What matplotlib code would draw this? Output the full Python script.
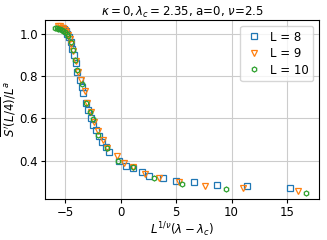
import matplotlib
matplotlib.use("Agg")
import matplotlib.pyplot as plt

# L = 8
x8 = [-5.4, -5.25, -5.1, -4.95, -4.8, -4.65, -4.5, -4.35, -4.2, -4.05, -3.9, -3.7, -3.5, -3.35,
      -3.15, -2.9, -2.7, -2.5, -2.25, -1.95, -1.7, -1.35, -1.0, -0.1, 0.5, 1.1, 1.9, 2.6, 3.8,
      5.0, 6.6, 8.7, 11.4, 15.3]
y8 = [1.03, 1.03, 1.025, 1.015, 1.0, 0.985, 0.96, 0.93, 0.90, 0.86, 0.82, 0.78, 0.75, 0.72,
      0.675, 0.64, 0.60, 0.57, 0.547, 0.515, 0.49, 0.465, 0.443, 0.40, 0.375, 0.363, 0.345, 0.328, 0.316,
      0.306, 0.30, 0.285, 0.278, 0.27]
# L = 9
x9 = [-5.66, -5.5, -5.35, -5.2, -5.05, -4.9, -4.75, -4.6, -4.45, -4.3, -4.05, -3.8, -3.6, -3.25,
      -3.0, -2.7, -2.35, -2.0, -1.6, -1.2, -0.35, 0.35, 1.1, 2.2, 3.5, 5.3, 7.6, 11.0, 16.0]
y9 = [1.035, 1.035, 1.03, 1.03, 1.02, 1.01, 0.995, 0.975, 0.95, 0.92, 0.87, 0.82, 0.78, 0.73,
      0.675, 0.63, 0.585, 0.54, 0.50, 0.46, 0.42, 0.387, 0.368, 0.335, 0.317, 0.30, 0.28, 0.27, 0.256]
# L = 10
x10 = [-5.9, -5.75, -5.6, -5.45, -5.3, -5.15, -5.0, -4.85, -4.7, -4.5, -4.3, -4.1, -3.9, -3.5,
       -3.15, -2.8, -2.5, -2.0, -1.2, -0.2, 1.1, 3.0, 5.5, 9.5, 16.7]
y10 = [1.03, 1.03, 1.025, 1.025, 1.02, 1.015, 1.01, 1.0, 0.99, 0.96, 0.925, 0.875, 0.83, 0.765,
       0.675, 0.63, 0.595, 0.52, 0.458, 0.40, 0.368, 0.316, 0.29, 0.265, 0.245]

labels = ["L = 8", "L = 9", "L = 10"]

fs = 8.5
fig = plt.figure(figsize=(3.27, 2.40), dpi=100)
ax = fig.add_axes([0.138, 0.172, 0.838, 0.745])

ax.plot(x8, y8, ls="none", marker="s", ms=4, mfc="none", mec="#1f77b4", mew=0.9, label=labels[0])
ax.plot(x9, y9, ls="none", marker="v", ms=4, mfc="none", mec="#ff7f0e", mew=0.9, label=labels[1])
ax.plot(x10, y10, ls="none", marker="h", ms=3.6, mfc="none", mec="#2ca02c", mew=0.9, label=labels[2])

ax.set_xlim(-6.8, 17.9)
ax.set_ylim(0.22, 1.066)
ax.set_xticks([-5, 0, 5, 10, 15])
ax.set_yticks([0.4, 0.6, 0.8, 1.0])
ax.grid(True, color="#cccccc", lw=0.8)
ax.set_axisbelow(True)

ax.set_title(r"$\kappa=0, \lambda_c=2.35$, a=0, $\nu$=2.5", fontsize=fs, pad=3)
ax.set_xlabel(r"$L^{1/\nu}(\lambda-\lambda_c)$", fontsize=fs, labelpad=1)
ax.set_ylabel(r"$\overline{S'(L/4)}/L^a$", fontsize=fs, labelpad=1)
ax.tick_params(labelsize=fs, length=3, pad=2)
ax.legend(loc="upper right", fontsize=fs, handlelength=1.5, borderpad=0.4, labelspacing=0.3,
          handletextpad=0.6)

fig.savefig("out.png", dpi=100)
